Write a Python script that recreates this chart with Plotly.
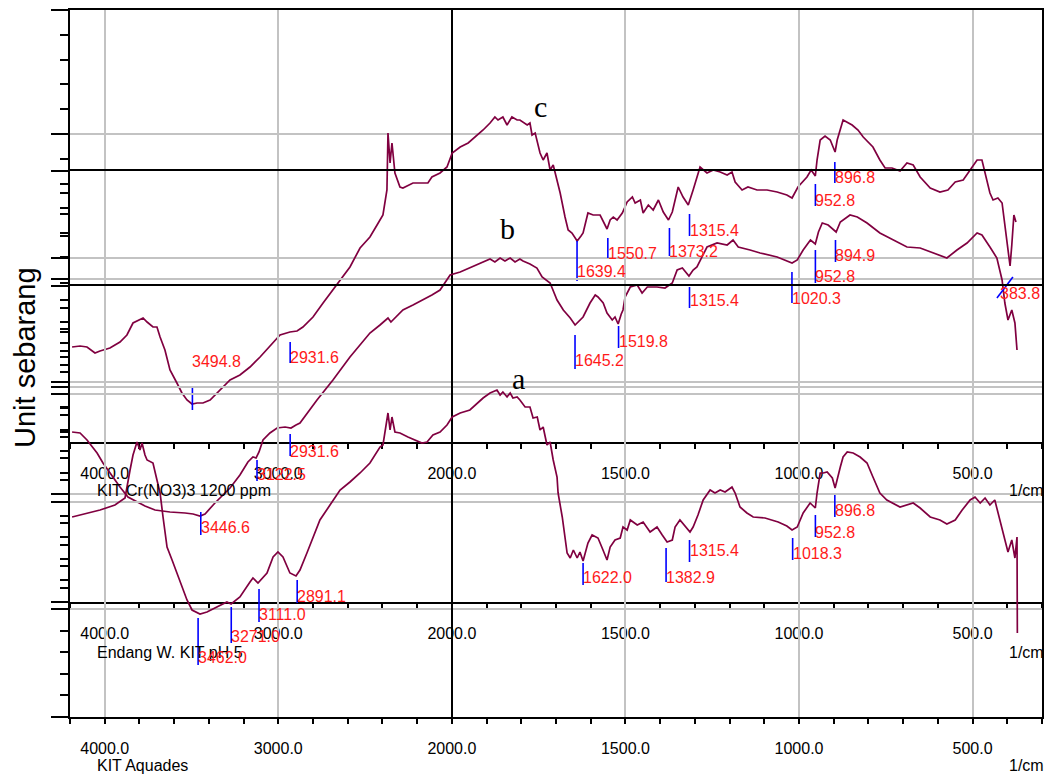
import plotly.graph_objects as go

W, H = 1048, 778
X0, X1 = 70, 1042                      # plot area left / right edge (px)
FONT = "Liberation Sans, Arial, sans-serif"
CURVE = "#800040"
GRID = "#c3c3c3"
PEAK_TICK = "#0000ff"
PEAK_TEXT = "#ff1a1a"
AXIS_W = 1.8

# ---------------------------------------------------------------- spectra
# (wavenumber 1/cm, transmittance in arbitrary units)
c_points = [
    (4188, 9.5), (4142, 9.6), (4102, 9.5), (4056, 8.9), (4027, 9.1), (3970, 9.4), (3912, 10.0),
    (3872, 10.7), (3837, 11.9), (3797, 12.2), (3779, 12.4), (3756, 12.0), (3722, 11.5), (3699, 11.5),
    (3681, 10.5), (3653, 9.2), (3624, 7.2), (3584, 5.9), (3555, 4.9), (3526, 4.2), (3497, 3.8),
    (3468, 3.9), (3434, 3.9), (3393, 4.2), (3336, 5.2), (3278, 6.2), (3221, 6.7), (3163, 7.5),
    (3105, 8.5), (3030, 9.9), (2990, 10.7), (2933, 11.0), (2892, 11.1), (2858, 11.5), (2800, 12.5),
    (2742, 13.9), (2685, 15.2), (2627, 16.5), (2587, 17.5), (2529, 19.4), (2472, 20.5), (2431, 21.7),
    (2397, 22.7), (2374, 25.2), (2368, 30.9), (2356, 27.9), (2345, 29.9), (2328, 26.9), (2299, 25.5),
    (2282, 25.4), (2224, 25.9), (2138, 25.9), (2115, 26.5), (2068, 26.9), (2028, 27.5), (1999, 28.9),
    (1976, 29.5), (1953, 29.9), (1933, 30.5), (1910, 31.2), (1890, 31.9), (1876, 32.5), (1867, 32.2),
    (1853, 32.5), (1841, 31.7), (1827, 32.5), (1812, 32.2), (1804, 32.2), (1783, 31.7), (1775, 31.9),
    (1769, 30.7), (1760, 30.9), (1746, 28.9), (1737, 28.2), (1726, 28.9), (1717, 27.2), (1708, 27.7),
    (1697, 26.2), (1688, 24.9), (1674, 22.5), (1665, 21.2), (1654, 20.9), (1645, 20.4), (1639, 20.1),
    (1628, 20.6), (1622, 20.9), (1608, 22.9), (1593, 22.7), (1573, 22.7), (1562, 22.0), (1553, 21.3),
    (1544, 22.2), (1535, 22.5), (1524, 22.2), (1509, 22.9), (1495, 24.0), (1480, 24.5), (1472, 23.9),
    (1457, 24.2), (1449, 22.9), (1434, 23.7), (1420, 23.2), (1405, 24.2), (1391, 23.0), (1376, 22.2),
    (1365, 23.0), (1357, 24.2), (1348, 25.5), (1334, 24.5), (1319, 23.7), (1305, 25.2), (1285, 27.5),
    (1265, 26.9), (1247, 27.2), (1227, 27.0), (1207, 26.7), (1193, 27.0), (1184, 26.0), (1164, 25.2),
    (1147, 25.5), (1121, 25.2), (1092, 25.2), (1063, 25.0), (1035, 24.7), (1020, 24.4), (1003, 25.5),
    (977, 26.5), (965, 27.2), (953, 26.6), (948, 28.2), (939, 30.2), (925, 30.6), (910, 30.2),
    (896, 29.0), (890, 30.2), (873, 32.2), (847, 31.7), (830, 31.2), (815, 30.5), (787, 29.5),
    (767, 28.2), (752, 27.4), (732, 27.4), (709, 27.1), (689, 27.9), (671, 27.7), (651, 26.5),
    (622, 25.4), (594, 25.0), (571, 25.2), (550, 26.0), (527, 26.2), (507, 27.2), (487, 28.2),
    (473, 28.2), (464, 26.9), (450, 24.9), (441, 24.2), (427, 24.4), (415, 23.9), (407, 21.7),
    (398, 19.2), (392, 17.6), (387, 19.7), (381, 22.7), (375, 22.0),
]

b_points = [
    (4188, 17.0), (4142, 16.9), (4102, 16.2), (4044, 14.9), (4010, 13.9), (3970, 12.9), (3912, 11.5),
    (3866, 10.5), (3814, 10.0), (3768, 9.6), (3710, 9.2), (3624, 9.0), (3537, 8.9), (3491, 8.8),
    (3451, 8.6), (3422, 8.8), (3365, 9.9), (3278, 11.4), (3221, 12.7), (3175, 14.0), (3146, 14.5),
    (3128, 14.4), (3111, 15.0), (3088, 16.2), (3048, 16.9), (3007, 17.4), (2961, 17.5), (2927, 17.4),
    (2898, 17.7), (2875, 17.9), (2777, 20.2), (2685, 22.2), (2587, 24.5), (2529, 25.7), (2472, 26.9),
    (2414, 27.7), (2368, 28.4), (2351, 28.0), (2328, 28.4), (2282, 29.2), (2224, 29.7), (2166, 30.2),
    (2115, 30.7), (2068, 31.2), (2010, 32.7), (1976, 33.0), (1948, 33.4), (1927, 33.7), (1910, 34.0),
    (1890, 34.3), (1876, 34.0), (1861, 34.4), (1847, 34.1), (1832, 34.4), (1818, 34.0), (1804, 34.3),
    (1795, 34.1), (1775, 33.8), (1755, 33.4), (1740, 32.5), (1717, 31.9), (1697, 30.2), (1679, 29.2),
    (1659, 28.4), (1645, 27.7), (1631, 28.2), (1622, 28.5), (1602, 29.9), (1587, 30.7), (1579, 30.5),
    (1564, 29.9), (1553, 28.9), (1538, 28.2), (1530, 28.5), (1521, 27.8), (1512, 28.8), (1507, 29.2),
    (1501, 30.5), (1486, 31.5), (1466, 31.7), (1452, 30.9), (1437, 31.5), (1409, 31.5), (1386, 31.4),
    (1365, 31.9), (1351, 33.2), (1336, 33.4), (1317, 32.6), (1305, 33.2), (1294, 33.5), (1265, 35.5),
    (1236, 35.9), (1207, 35.7), (1190, 36.2), (1175, 35.5), (1141, 35.2), (1112, 34.9), (1063, 34.5),
    (1040, 34.2), (1020, 33.9), (1005, 34.2), (988, 35.2), (967, 36.2), (953, 35.8), (944, 37.0),
    (933, 37.9), (916, 37.7), (893, 37.0), (881, 38.0), (853, 38.7), (832, 38.5), (804, 37.9),
    (767, 36.9), (729, 36.2), (689, 35.5), (651, 35.4), (614, 34.9), (574, 34.4), (545, 35.2),
    (516, 35.9), (487, 36.9), (473, 36.7), (450, 35.5), (430, 34.4), (415, 32.2), (407, 29.9),
    (398, 28.2), (387, 29.2), (378, 27.9), (372, 25.2),
]

a_points = [
    (4188, 20.0), (4114, 20.3), (4027, 20.7), (3941, 21.2), (3883, 21.9), (3854, 24.7), (3837, 26.2),
    (3814, 27.5), (3797, 26.7), (3785, 27.4), (3768, 26.2), (3756, 25.7), (3722, 25.4), (3699, 23.7),
    (3681, 22.4), (3664, 20.0), (3641, 17.0), (3612, 15.7), (3584, 14.4), (3526, 11.7), (3497, 10.7),
    (3468, 10.4), (3451, 10.3), (3411, 10.5), (3353, 11.0), (3296, 11.5), (3272, 11.3), (3249, 11.6),
    (3221, 12.0), (3163, 13.5), (3146, 13.9), (3117, 13.4), (3100, 13.7), (3065, 14.4), (3030, 16.0),
    (3002, 16.5), (2973, 16.0), (2933, 14.4), (2898, 14.1), (2875, 14.7), (2835, 16.4), (2806, 17.7),
    (2760, 19.7), (2702, 21.2), (2644, 22.7), (2587, 23.5), (2529, 24.4), (2472, 25.4), (2414, 27.0),
    (2397, 27.2), (2374, 30.0), (2368, 30.4), (2356, 28.7), (2345, 30.0), (2328, 28.5), (2299, 28.4),
    (2253, 28.0), (2212, 27.7), (2172, 27.4), (2143, 27.5), (2109, 28.2), (2068, 28.5), (2028, 29.2),
    (1999, 30.0), (1976, 30.4), (1948, 30.7), (1927, 31.4), (1910, 31.9), (1890, 32.4), (1870, 32.7),
    (1861, 32.2), (1853, 32.5), (1841, 32.0), (1832, 32.4), (1824, 31.9), (1812, 32.0), (1804, 31.7),
    (1789, 31.0), (1775, 31.0), (1766, 29.9), (1754, 30.0), (1746, 28.7), (1737, 29.0), (1726, 27.2),
    (1717, 27.5), (1708, 25.7), (1697, 24.0), (1694, 22.4), (1682, 20.0), (1674, 18.0), (1668, 16.4),
    (1659, 15.9), (1650, 16.7), (1639, 15.9), (1631, 16.5), (1622, 15.6), (1608, 17.4), (1596, 18.2),
    (1579, 17.9), (1567, 16.9), (1553, 15.7), (1544, 17.0), (1530, 17.7), (1515, 17.9), (1507, 19.0),
    (1495, 18.7), (1486, 19.7), (1466, 19.2), (1449, 19.5), (1429, 18.5), (1409, 19.0), (1394, 18.2),
    (1380, 17.5), (1365, 17.7), (1357, 19.0), (1343, 19.7), (1322, 18.9), (1314, 18.5), (1305, 19.0),
    (1291, 20.2), (1276, 21.7), (1256, 22.7), (1242, 22.4), (1227, 22.7), (1213, 22.5), (1193, 23.0),
    (1184, 22.4), (1170, 21.0), (1150, 20.4), (1132, 20.0), (1098, 19.9), (1060, 19.5), (1035, 19.1),
    (1020, 18.7), (1005, 19.0), (988, 20.4), (968, 21.4), (953, 20.9), (948, 22.4), (939, 24.4),
    (930, 24.4), (919, 24.5), (904, 23.9), (896, 22.9), (881, 25.0), (873, 26.0), (861, 26.5),
    (844, 26.4), (824, 26.0), (804, 25.4), (787, 24.0), (767, 22.4), (747, 21.7), (709, 21.0),
    (671, 21.4), (651, 20.9), (622, 20.0), (594, 19.7), (574, 19.3), (550, 19.7), (530, 20.7),
    (507, 21.7), (493, 22.0), (478, 21.4), (464, 21.9), (450, 21.2), (436, 21.7), (421, 19.7),
    (415, 18.7), (398, 16.5), (387, 17.7), (378, 15.9), (372, 18.0), (371, 8.4),
]

# ---------------------------------------------------------------- picked peaks
c_peaks = [3494.8, 2931.6, 1639.4, 1550.7, 1373.2, 1315.4, 952.8, 896.8]
b_peaks = [3446.6, 3122.5, 2931.6, 1645.2, 1519.8, 1315.4, 1020.3, 952.8, 894.9, 383.8]
a_peaks = [3462.0, 3271.0, 3111.0, 2891.1, 1622.0, 1382.9, 1315.4, 1018.3, 952.8, 896.8]

# x-axis tick labels (1/cm)
x_tick_values = [4000, 3000, 2000, 1500, 1000, 500]
x_tick_text = ["4000.0", "3000.0", "2000.0", "1500.0", "1000.0", "500.0"]

# marker extents (top, bottom) and label heights, in each frame's own units
c_marks = dict(top=[5.4, 10.0, 20.1, 20.4, 21.4, 22.8, 25.8, 28.0],
               bottom=[3.2, 7.9, 16.1, 18.4, 18.6, 20.6, 23.6, 25.9],
               label=[8.1, 8.5, 17.1, 18.9, 19.1, 21.2, 24.2, 26.5])
b_marks = dict(top=[9.0, 14.2, 16.8, 26.7, 27.6, 31.5, 33.0, 35.2, 36.2, 32.5],
               bottom=[6.7, 12.1, 14.6, 23.3, 25.4, 29.4, 29.9, 31.9, 34.0, 30.4],
               label=[7.5, 12.8, 15.1, 24.2, 26.1, 30.2, 30.4, 32.6, 34.7, 30.9],
               lean={383.8: 46}, nudge={383.8: -13})
a_marks = dict(top=[9.9, 11.0, 12.8, 13.7, 15.4, 16.9, 17.7, 17.9, 20.2, 22.2],
               bottom=[5.2, 7.4, 9.5, 11.4, 13.2, 13.5, 15.5, 15.7, 18.0, 20.0],
               label=[6.0, 8.1, 10.3, 12.1, 14.0, 14.0, 16.7, 16.4, 18.5, 20.7])


def u(wn):
    """Wavenumber -> axis coordinate; below 2000 1/cm the scale is doubled."""
    return wn - 2000 if wn >= 2000 else 2 * (wn - 2000)


def paper_x(px):
    return px / W


def paper_y(px):
    return 1 - px / H


# frame definitions: sample name, top/bottom edge (px), y range, major/minor tick step
frames = [
    dict(name="KIT Cr(NO3)3 1200 ppm", top=10, bottom=442, yr=[0, 43.2], t0=6.0, dt=12.4,
         mdt=2.48, pts=c_points, peaks=c_peaks, marks=c_marks, letter="c", letter_at=(540, 106),
         name_row=490),
    dict(name="Endang W. KIT pH 5", top=171, bottom=602, yr=[0, 43.1], t0=0.0, dt=10.775,
         mdt=2.155, pts=b_points, peaks=b_peaks, marks=b_marks, letter="b", letter_at=(507, 229),
         name_row=652),
    dict(name="KIT Aquades", top=286, bottom=717, yr=[0, 43.1], t0=0.0, dt=10.775,
         mdt=2.155, pts=a_points, peaks=a_peaks, marks=a_marks, letter="a", letter_at=(518, 378),
         name_row=765),
]

fig = go.Figure()
layout = dict(
    width=W, height=H, margin=dict(l=0, r=0, t=0, b=0),
    paper_bgcolor="white", plot_bgcolor="rgba(0,0,0,0)",
    showlegend=False, font=dict(family=FONT, size=16, color="black"),
)
annotations = []

for i, f in enumerate(frames, start=1):
    sfx = "" if i == 1 else str(i)
    xref, yref = "x" + sfx, "y" + sfx

    wn, val = zip(*f["pts"])
    fig.add_trace(go.Scatter(x=[u(w) for w in wn], y=list(val), xaxis=xref, yaxis=yref,
                             mode="lines", line=dict(color=CURVE, width=1.7),
                             hoverinfo="skip"))

    m = f["marks"]
    lean = m.get("lean", {})
    nudge = m.get("nudge", {})
    tx, ty = [], []
    for p, t, b in zip(f["peaks"], m["top"], m["bottom"]):
        tx += [u(p), u(p + lean.get(p, 0)), None]
        ty += [t, b, None]
    fig.add_trace(go.Scatter(x=tx, y=ty, xaxis=xref, yaxis=yref, mode="lines",
                             line=dict(color=PEAK_TICK, width=1.6), hoverinfo="skip"))
    for p, ly in zip(f["peaks"], m["label"]):
        annotations.append(dict(x=u(p), y=ly, xref=xref, yref=yref, text=f"{p:.1f}",
                                showarrow=False, xanchor="left", yanchor="middle",
                                xshift=-1 + nudge.get(p, 0), borderpad=0,
                                font=dict(family=FONT, size=16, color=PEAK_TEXT)))

    tick_style = dict(ticks="outside", tickcolor="black", tickwidth=1.5)
    layout["xaxis" + sfx] = dict(
        domain=[paper_x(X0), paper_x(X1)], anchor=yref, range=[u(4200), u(300)],
        tickmode="array", tickvals=[u(v) for v in x_tick_values], ticktext=x_tick_text,
        ticklen=5, ticklabelstandoff=11, tickfont=dict(family=FONT, size=16, color="black"),
        showline=True, linecolor="black", linewidth=AXIS_W, mirror=True,
        showgrid=True, gridcolor=GRID, gridwidth=2,
        zeroline=True, zerolinecolor="black", zerolinewidth=AXIS_W,
        minor=dict(tickmode="linear", tick0=0, dtick=200, ticklen=5, showgrid=False,
                   **tick_style),
        fixedrange=True, **tick_style,
    )
    layout["yaxis" + sfx] = dict(
        domain=[paper_y(f["bottom"]), paper_y(f["top"])], anchor=xref, range=f["yr"],
        tickmode="linear", tick0=f["t0"], dtick=f["dt"], ticklen=17, showticklabels=False,
        showline=True, linecolor="black", linewidth=AXIS_W, mirror=True,
        showgrid=True, gridcolor=GRID, gridwidth=2, zeroline=False,
        minor=dict(tickmode="linear", tick0=f["t0"], dtick=f["mdt"], ticklen=8,
                   showgrid=False, **tick_style),
        fixedrange=True, **tick_style,
    )

    # sample name under the axis and the unit at its right end
    annotations.append(dict(x=paper_x(95), y=paper_y(f["name_row"]), xref="paper", yref="paper",
                            text=f["name"], showarrow=False, xanchor="left", yanchor="middle",
                            font=dict(family=FONT, size=16, color="black")))
    annotations.append(dict(x=paper_x(1046), y=paper_y(f["name_row"]), xref="paper",
                            yref="paper", text="1/cm", showarrow=False, xanchor="right",
                            yanchor="middle", font=dict(family=FONT, size=16, color="black")))
    # curve letter
    lx, ly = f["letter_at"]
    annotations.append(dict(x=paper_x(lx), y=paper_y(ly), xref="paper", yref="paper",
                            text=f["letter"], showarrow=False, xanchor="center",
                            yanchor="middle",
                            font=dict(family="Liberation Serif, Times New Roman, serif",
                                      size=30, color="black")))

annotations.append(dict(x=paper_x(25), y=paper_y(358), xref="paper", yref="paper",
                        text="Unit sebarang", textangle=-90, showarrow=False,
                        xanchor="center", yanchor="middle",
                        font=dict(family=FONT, size=29, color="black")))

layout["annotations"] = annotations
fig.update_layout(**layout)
fig.write_html("out.html")
